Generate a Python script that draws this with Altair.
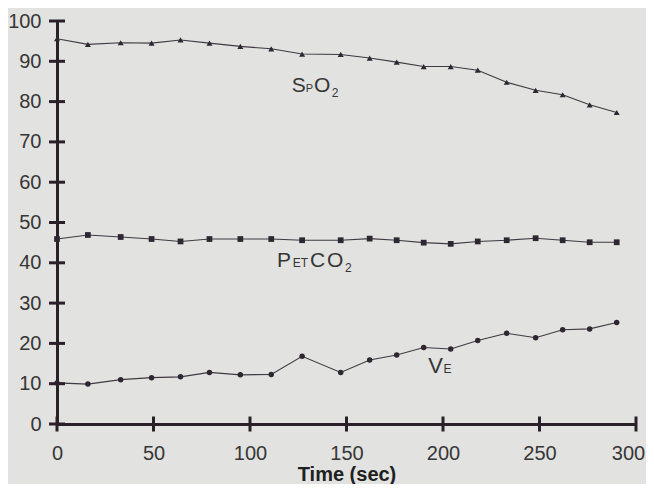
import altair as alt
import pandas as pd

# ---- data ----
times = [0, 16, 33, 49, 64, 79, 95, 111, 127, 147, 162, 176, 190, 204, 218, 233, 248, 262, 276, 290]
spo2 = [95.6, 94.2, 94.6, 94.5, 95.3, 94.5, 93.7, 93.1, 91.8, 91.7, 90.8, 89.8, 88.7, 88.7, 87.8, 84.8, 82.8, 81.7, 79.2, 77.3]
petco2 = [45.9, 46.9, 46.4, 45.9, 45.3, 45.9, 45.9, 45.9, 45.6, 45.6, 46.0, 45.6, 45.0, 44.7, 45.3, 45.6, 46.1, 45.6, 45.1, 45.1]
ve = [10.2, 9.9, 11.0, 11.5, 11.7, 12.8, 12.2, 12.3, 16.8, 12.8, 15.9, 17.1, 19.0, 18.6, 20.7, 22.5, 21.4, 23.4, 23.6, 25.2]

series_names = ["SpO2", "PETCO2", "VE"]
series_shapes = ["triangle-up", "square", "circle"]
series_sizes = [36, 30, 22]

x_ticks = [0, 50, 100, 150, 200, 250, 300]
y_ticks = [0, 10, 20, 30, 40, 50, 60, 70, 80, 90, 100]

# label pieces (main letters and subscripts)
label_text = ["S", "P", "O", "2", "P", "ET", "C", "O", "2", "V", "E"]
label_x = [121.6, 128.9, 133.2, 142.3, 114.0, 122.1, 131.1, 139.9, 149.2, 192.4, 200.2]
label_y = [82.5, 82.5, 82.5, 81.2, 39.0, 39.0, 39.0, 39.0, 37.6, 12.7, 12.7]
label_size = [21, 11, 21, 12, 21, 12, 21, 21, 12, 22, 12]

rows = []
for name, vals in zip(series_names, [spo2, petco2, ve]):
    for t, v in zip(times, vals):
        rows.append({"time": t, "value": v, "series": name})
df = pd.DataFrame(rows)

ytick_df = pd.DataFrame({"time": [0] * len(y_ticks), "value": y_ticks})
xtick_df = pd.DataFrame({"time": x_ticks, "value": [0] * len(x_ticks)})
lab_df = pd.DataFrame({"time": label_x, "value": label_y, "text": label_text, "size": label_size})

AX = "#2b2029"
LINE = "#3f3a42"
MARK = "#2e2630"
TXT = "#363636"
FONT = "Liberation Sans"

x_scale = alt.Scale(domain=[0, 300], nice=False, zero=False)
y_scale = alt.Scale(domain=[0, 100], nice=False)

x_axis = alt.Axis(values=x_ticks, ticks=False, tickSize=0, domainWidth=3, domainColor=AX,
                  labelFont=FONT, labelFontSize=20, labelColor=TXT, labelPadding=19,
                  labelOffset={"condition": {"test": "datum.value >= 300", "value": -8}, "value": 0},
                  labelFlush=False, grid=False, title="Time (sec)", titleFont=FONT,
                  titleFontSize=20, titleFontWeight="bold", titleColor="#202020", titlePadding=1)
y_axis = alt.Axis(values=y_ticks, ticks=False, tickSize=0, domainWidth=3, domainColor=AX,
                  labelFont=FONT, labelFontSize=20, labelColor=TXT, labelPadding=16,
                  labelFlush=False, grid=False, title=None)

X = alt.X("time:Q", scale=x_scale, axis=x_axis)
Y = alt.Y("value:Q", scale=y_scale, axis=y_axis)

lines = alt.Chart(df).mark_line(color=LINE, strokeWidth=1.1).encode(
    x=X, y=Y, detail="series:N",
)

points = alt.Chart(df).mark_point(filled=True, color=MARK, opacity=1).encode(
    x=X, y=Y,
    shape=alt.Shape("series:N", scale=alt.Scale(domain=series_names, range=series_shapes), legend=None),
    size=alt.Size("series:N", scale=alt.Scale(domain=series_names, range=series_sizes), legend=None),
)

yticks = alt.Chart(ytick_df).mark_tick(orient="horizontal", size=16, thickness=3, color=AX, opacity=1).encode(
    x=X, y=Y,
)
xticks = alt.Chart(xtick_df).mark_tick(orient="vertical", size=15, thickness=3, color=AX, opacity=1).encode(
    x=X, y=Y,
)

labels = alt.Chart(lab_df).mark_text(align="left", baseline="alphabetic", font=FONT, color=TXT).encode(
    x=X, y=Y,
    text="text:N",
    size=alt.Size("size:Q", scale=None),
)

chart = alt.layer(lines, points, yticks, xticks, labels).properties(
    width=579, height=403,
    padding={"left": 49, "top": 13, "right": 10, "bottom": 60},
    autosize=alt.AutoSizeParams(type="none"),
    background="#e2e2e0",
).configure_view(stroke=None)

chart.save("out.html", embed_options={"renderer": "svg", "actions": False})
